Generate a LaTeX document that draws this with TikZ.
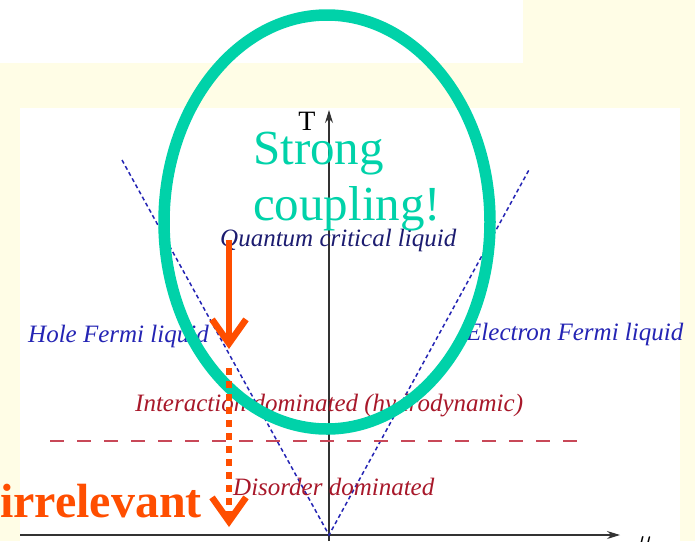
\documentclass[tikz,border=0pt]{standalone}
\usepackage{fontspec}
\setmainfont{Liberation Serif}
\usepackage{xcolor}
\usetikzlibrary{arrows.meta}

\definecolor{paper}{HTML}{FFFDE6}
\definecolor{ringteal}{HTML}{00D2A9}
\definecolor{flow}{HTML}{FF4E00}
\definecolor{phaseblue}{HTML}{2424B4}
\definecolor{critnavy}{HTML}{1C1C70}
\definecolor{regimered}{HTML}{A8182A}
\definecolor{crossred}{HTML}{C84858}

\begin{document}
\begin{tikzpicture}[
		x=1pt, y=-1pt,
		label/.style={font=\fontsize{25}{28}\selectfont\itshape, inner sep=0pt, anchor=base west},
		axis/.style={-{Stealth[length=13pt, width=8pt]}, line width=1.1pt, black!80},
		crossover/.style={phaseblue, line width=1.5pt, dash pattern=on 4pt off 3pt},
		ring/.style={ringteal, line width=11.5pt},
		flowarrow/.style={flow, line width=6.5pt, -{Straight Barb[length=24pt, width=34pt]}},
		every node/.style={inner sep=0pt}
		]

		% page and panels
		\useasboundingbox (0,0) rectangle (695,541);
		\clip (0,0) rectangle (695,541);
		\fill[paper] (0,0) rectangle (695,541);
		\fill[white] (0,0) rectangle (523,63);
		\fill[white] (20,108) rectangle (680,541);

		% axes
		\coordinate (origin) at (329,535);
		\coordinate (ttop) at (329,110);
		\coordinate (mright) at (620,535);
		\draw[axis] (329,541) -- (ttop);
		\draw[axis] (20,535) -- (mright);
		\node[font=\fontsize{28}{30}\selectfont, anchor=base] (tlab) at (307,130) {T};
		\node[font=\fontsize{28}{30}\selectfont, anchor=base] (mulab) at (645,547) {$\mu$};

		% crossover lines
		\coordinate (lefttop) at (122,160);
		\coordinate (righttop) at (530,168);
		\draw[crossover] (lefttop) -- (origin) -- (righttop);
		\draw[crossred, line width=1.3pt, dash pattern=on 14pt off 13pt] (50,441) -- (582,441);

		% regime labels
		\node[label, critnavy] (qcl) at (220,246) {Quantum critical liquid};
		\node[label, phaseblue] (hole) at (28,342) {Hole Fermi liquid};
		\node[label, phaseblue] (elec) at (466,340) {Electron Fermi liquid};
		\node[label, regimered] (inter) at (135,411) {Interaction dominated (hydrodynamic)};
		\node[label, regimered] (dis) at (233,495) {Disorder dominated};

		% strong coupling region
		\draw[ring] (327,222) ellipse [x radius=163, y radius=207];
		\node[ringteal, font=\fontsize{49}{56}\selectfont, align=left, anchor=base west] (strong) at (253,220) {Strong\\coupling!};

		% flow arrows
		\coordinate (flowtop) at (229,240);
		\coordinate (flowmid) at (229,349);
		\coordinate (dotstart) at (229,368);
		\coordinate (flowend) at (229,527);
		\draw[flowarrow] (flowtop) -- (flowmid);
		\draw[flowarrow, dash pattern=on 7pt off 6pt] (dotstart) -- (flowend);
		\node[flow, font=\fontsize{48}{50}\selectfont\bfseries, anchor=base west] (irr) at (0,517) {irrelevant};
	\end{tikzpicture}
\end{document}
